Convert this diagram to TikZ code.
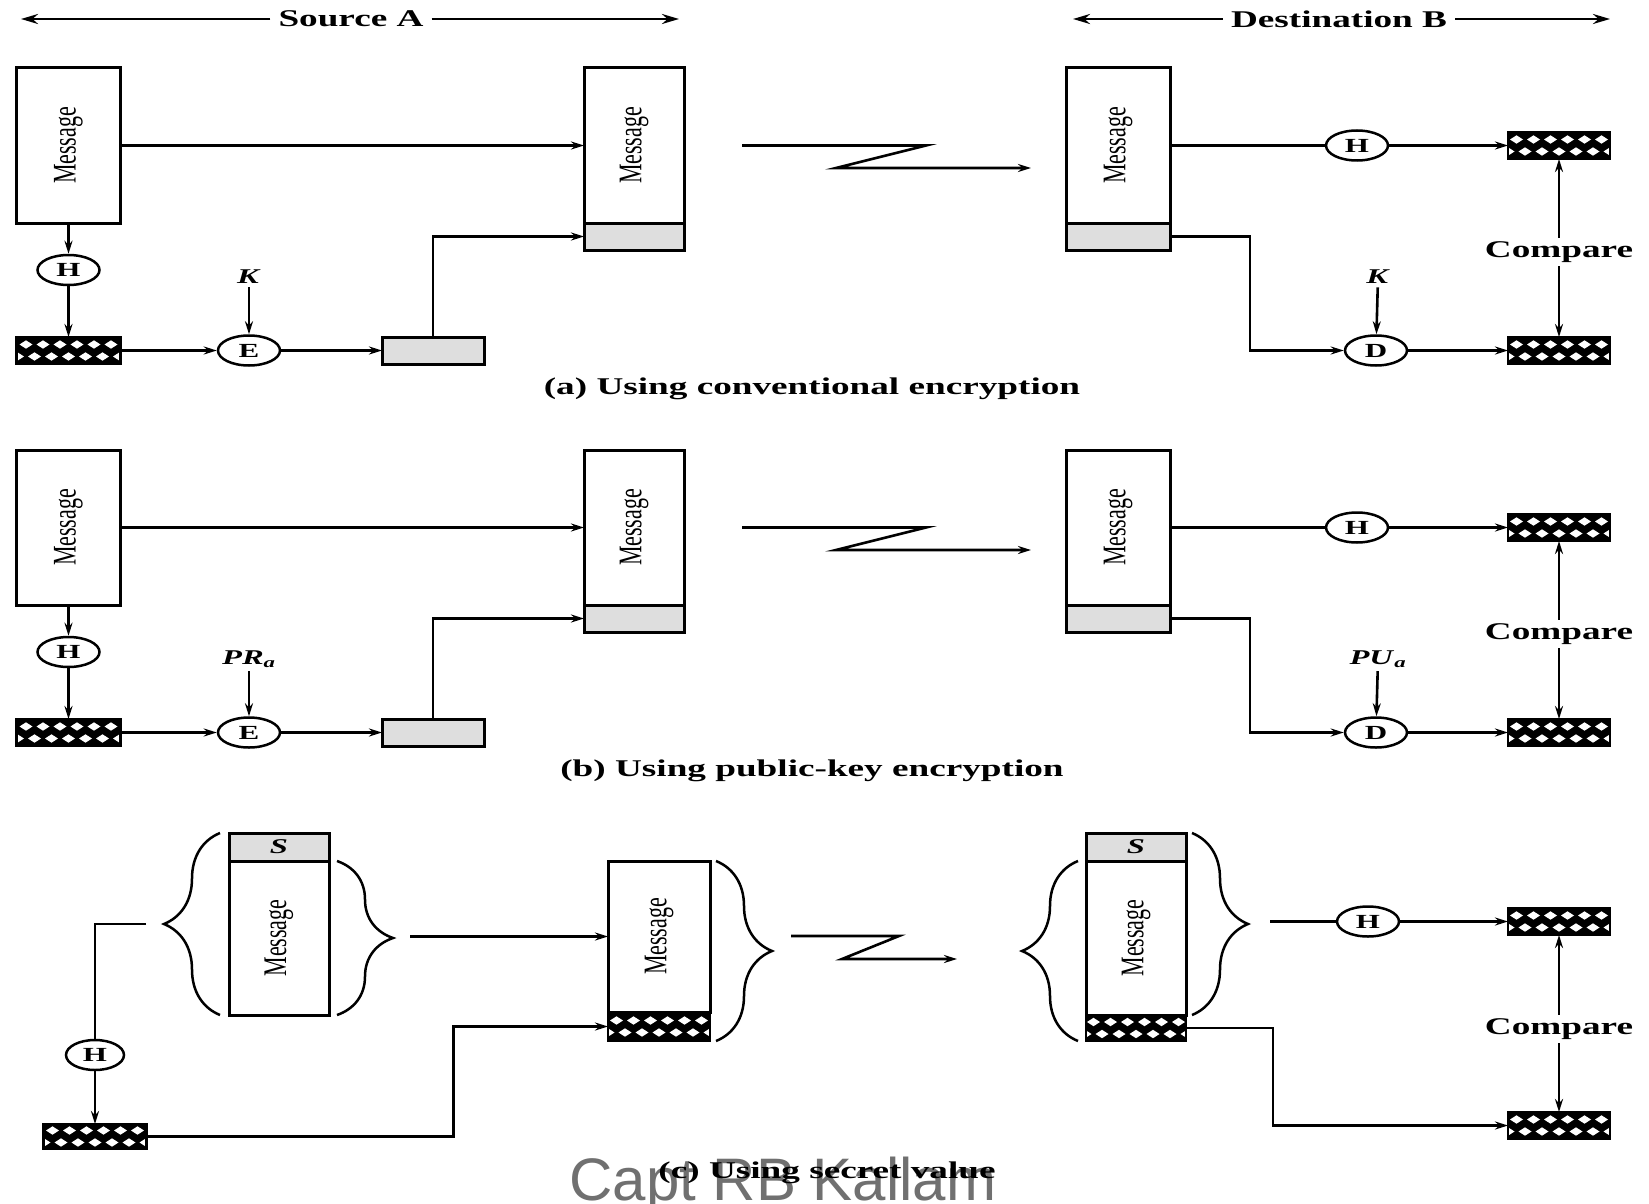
\documentclass[tikz,border=0pt]{standalone}
\usepackage{fontspec}
\setmainfont{Liberation Serif}
\setsansfont{Liberation Sans}
\usepackage{graphicx}
\usepackage{xcolor}
\definecolor{tagfill}{RGB}{222,222,222}
\definecolor{markgray}{RGB}{112,112,112}
\usepackage{tikz}
\usetikzlibrary{arrows.meta,calc,positioning,shapes.geometric,decorations.pathreplacing}

\newcommand{\widetxt}[1]{\scalebox{1.55}[1]{#1}}
\newcommand{\msgtxt}{\rotatebox{90}{\scalebox{1}[1.5]{\fontsize{22}{22}\selectfont Message}}}
\newcommand{\keyK}{\textbf{\textit{K}}}
\newcommand{\keyS}{\textbf{\textit{S}}}
\newcommand{\keyPR}{\textbf{\textit{PR}}\textsubscript{\textbf{\textit{a}}}}
\newcommand{\keyPU}{\textbf{\textit{PU}}\textsubscript{\textbf{\textit{a}}}}

\tikzset{
  msgbox/.style={draw,line width=3pt,minimum width=104pt,minimum height=155pt,inner sep=0pt,outer sep=0pt},
  tagbox/.style={draw,fill=tagfill,line width=3pt,minimum width=104pt,minimum height=27pt,inner sep=0pt,outer sep=0pt},
  hashbox/.style={draw,fill=black,line width=2.5pt,minimum width=102pt,minimum height=27pt,inner sep=0pt,outer sep=0pt,
    path picture={
      \foreach \i in {-2.5,-1.5,...,2.5}{
        \fill[white] ($(path picture bounding box.center)+(\i*17,-6)$) +(-6.5,0) -- +(0,-4.2) -- +(6.5,0) -- +(0,4.2) -- cycle;
      }
      \foreach \i in {-3,...,3}{
        \fill[white] ($(path picture bounding box.center)+(\i*17,6)$) +(-6.5,0) -- +(0,-4.2) -- +(6.5,0) -- +(0,4.2) -- cycle;
      }}},
  op/.style={ellipse,draw,line width=2.5pt,minimum width=62pt,minimum height=30pt,inner sep=0pt,font=\bfseries\fontsize{20}{20}\selectfont},
  keylbl/.style={font=\fontsize{21}{21}\selectfont},
  hdr/.style={font=\bfseries\fontsize{24}{24}\selectfont,inner sep=8pt},
  capt/.style={font=\bfseries\fontsize{24}{24}\selectfont},
  link/.style={line width=2.6pt},
  brc/.style={decorate,decoration={brace,amplitude=56pt},line width=2.5pt}
}

\begin{document}
\begin{tikzpicture}[x=1pt,y=-1pt,>={Stealth[length=13pt,width=8pt]}]
  \fill[white] (0,0) rectangle (1649,1204);
  \useasboundingbox (0,0) rectangle (1649,1204);
  % header
  \node[hdr] (srcT) at (351,19) {\widetxt{Source A}};
  \coordinate (srcL) at (21,19);
  \coordinate (srcR) at (679,19);
  \draw[-{Stealth[length=17pt,width=10pt]},link] (srcT) -- (srcL);
  \draw[-{Stealth[length=17pt,width=10pt]},link] (srcT) -- (srcR);
  \node[hdr] (dstT) at (1339,19) {\widetxt{Destination B}};
  \coordinate (dstL) at (1073,19);
  \coordinate (dstR) at (1610,19);
  \draw[-{Stealth[length=17pt,width=10pt]},link] (dstT) -- (dstL);
  \draw[-{Stealth[length=17pt,width=10pt]},link] (dstT) -- (dstR);

  % (a) and (b)
  \foreach \p/\dy/\ke/\kd/\cp in {a/0/\keyK/\keyK/{(a) Using conventional encryption},b/382/\keyPR/\keyPU/{(b) Using public-key encryption}}{
  \begin{scope}[shift={(0,\dy)}]
    \node[msgbox] (msgA\p) at (68.5,145.5) {\msgtxt};
    \node[op] (hA\p) at (68.5,270) {\widetxt{H}};
    \node[hashbox,minimum width=104pt] (hashA\p) at (68.5,350.5) {};
    \node[op] (eA\p) at (249,350.5) {\widetxt{E}};
    \node[keylbl] (kA\p) at (249,277) {\widetxt{\ke}};
    \node[tagbox,minimum width=102pt] (tagA\p) at (433,350.5) {};
    \node[msgbox,minimum width=100pt] (msgM\p) at (634,145.5) {\msgtxt};
    \node[tagbox,minimum width=100pt,below=0pt of msgM\p] (tagM\p) {};
    \node[msgbox] (msgD\p) at (1118,145.5) {\msgtxt};
    \node[tagbox,below=0pt of msgD\p] (tagD\p) {};
    \node[op] (hD\p) at (1357,145.5) {\widetxt{H}};
    \node[op] (dD\p) at (1376,350.5) {\widetxt{D}};
    \node[keylbl] (kD\p) at (1378,277) {\widetxt{\kd}};
    \node[hashbox] (hashT\p) at (1559,145.5) {};
    \node[hashbox] (hashB\p) at (1559,350.5) {};
    \node[capt] (cmp\p) at (1559,252) {\widetxt{Compare}};
    \node[capt] (cap\p) at (812,389) {\widetxt{\cp}};
    \coordinate (z1\p) at (742,145.5);
    \coordinate (z2\p) at (926,145.5);
    \coordinate (z3\p) at (836,168);
    \coordinate (z4\p) at (1031,168);
    \draw[->,link] (z1\p) -- (z2\p) -- (z3\p) -- (z4\p);
    \draw[->,link] (msgA\p) -- (hA\p);
    \draw[->,link] (hA\p) -- (hashA\p);
    \draw[->,link] (hashA\p) -- (eA\p);
    \draw[->,link] (kA\p) -- (eA\p);
    \draw[->,link] (eA\p) -- (tagA\p);
    \draw[->,link] (tagA\p.north) |- (tagM\p.west);
    \draw[->,link] (msgA\p) -- (msgM\p);
    \draw[link] (msgD\p) -- (hD\p);
    \draw[->,link] (hD\p) -- (hashT\p);
    \draw[->,link] (tagD\p.east) -- ++(80,0) |- (dD\p.west);
    \draw[->,link] (kD\p) -- (dD\p);
    \draw[->,link] (dD\p) -- (hashB\p);
    \draw[->,link] (cmp\p) -- (hashT\p);
    \draw[->,link] (cmp\p) -- (hashB\p);
  \end{scope}
  }

  % (c)
  \node[tagbox,minimum width=100pt,minimum height=28pt,font=\fontsize{21}{21}\selectfont] (sA) at (279,847) {\widetxt{\keyS}};
  \node[msgbox,minimum width=100pt,minimum height=154pt,below=0pt of sA] (msgSC) {\msgtxt};
  \node[msgbox,minimum width=102pt,minimum height=151pt] (msgMC) at (659,936.5) {\msgtxt};
  \node[hashbox,minimum height=29pt,below=0pt of msgMC] (hashMC) {};
  \node[tagbox,minimum width=100pt,minimum height=28pt,font=\fontsize{21}{21}\selectfont] (sD) at (1136,847) {\widetxt{\keyS}};
  \node[msgbox,minimum width=100pt,minimum height=154pt,below=0pt of sD] (msgDC) {\msgtxt};
  \node[hashbox,minimum width=100pt,minimum height=26pt,below=0pt of msgDC] (hashDC) {};
  \node[op,minimum width=58pt] (hC) at (95,1055) {\widetxt{H}};
  \node[hashbox,minimum width=103pt,minimum height=25pt] (hashC) at (95,1136.5) {};
  \node[op] (hDC) at (1368,921.5) {\widetxt{H}};
  \node[hashbox] (hashTC) at (1559,921.5) {};
  \node[hashbox] (hashBC) at (1559,1125.5) {};
  \node[capt] (cmpC) at (1559,1029) {\widetxt{Compare}};

  \draw[brc] (220,1015) -- (220,833);
  \draw[brc] (337,861) -- (337,1015);
  \draw[brc] (716,861) -- (716,1041);
  \draw[brc] (1078,1041) -- (1078,861);
  \draw[brc] (1192,833) -- (1192,1015);

  \coordinate (bSL) at (146,924);
  \coordinate (bSR) at (410,936.5);
  \coordinate (bDR) at (1270,921.5);
  \coordinate (z1c) at (791,936);
  \coordinate (z2c) at (899,936);
  \coordinate (z3c) at (842,959);
  \coordinate (z4c) at (957,959);
  \draw[link] (bSL) -| (hC.north);
  \draw[->,link] (hC) -- (hashC);
  \draw[->,link] (hashC.east) -- ++(307,0) |- (hashMC.west);
  \draw[->,link] (bSR) -- (msgMC.west);
  \draw[->,link] (z1c) -- (z2c) -- (z3c) -- (z4c);
  \draw[link] (bDR) -- (hDC);
  \draw[->,link] (hDC) -- (hashTC);
  \draw[->,link] (hashDC.east) -- ++(87,0) |- (hashBC.west);
  \draw[->,link] (cmpC) -- (hashTC);
  \draw[->,link] (cmpC) -- (hashBC);

  \node[font=\sffamily\fontsize{60}{60}\selectfont,text=markgray,anchor=base] (mark) at (783,1200) {Capt RB Kallam};
  \node[capt] (capC) at (827,1173) {\widetxt{(c) Using secret value}};
\end{tikzpicture}
\end{document}
